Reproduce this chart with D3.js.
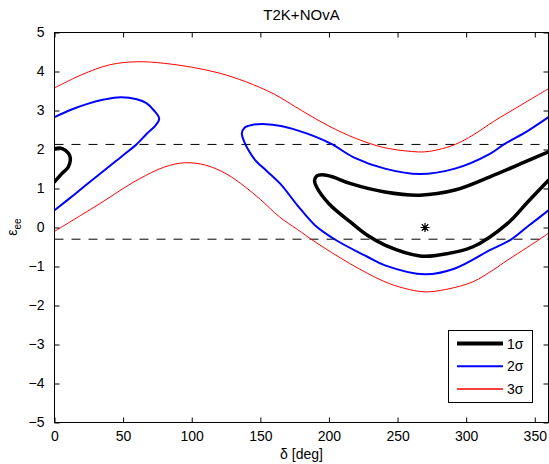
<!DOCTYPE html>
<html>
<head>
<meta charset="utf-8">
<script src="https://cdn.jsdelivr.net/npm/d3@7"></script>
<style>
  html, body { margin: 0; padding: 0; background: #fff; }
  text { font-family: "Liberation Sans", Arial, Helvetica, sans-serif; }
</style>
</head>
<body>
<svg id="chart" width="549" height="464"></svg>
<script>
// ---------- data ----------
const title = "T2K+NOvA";
const xTicks = [0, 50, 100, 150, 200, 250, 300, 350];
const yTicks = [-5, -4, -3, -2, -1, 0, 1, 2, 3, 4, 5];
const dashedLevels = [2.13, -0.3];
const bestFit = [270, 0];

// 3 sigma (red)
const red3UpperDelta = [0, 20, 40, 60, 80, 100, 120, 140, 160, 180, 200, 220, 240, 260, 270, 280, 292, 305, 320, 340, 360];
const red3UpperEps   = [3.58, 3.92, 4.17, 4.25, 4.21, 4.11, 3.96, 3.73, 3.42, 3.0, 2.6, 2.28, 2.05, 1.95, 1.94, 2.0, 2.13, 2.37, 2.72, 3.14, 3.56];
const red3LowerDelta = [0, 20, 37, 50, 62, 80, 95, 110, 125, 139, 150, 164, 177, 190, 215, 240, 255, 270, 285, 305, 320, 330, 345, 360];
const red3LowerEps   = [-0.1, 0.33, 0.70, 1.0, 1.25, 1.55, 1.66, 1.6, 1.38, 1.04, 0.72, 0.27, -0.05, -0.37, -0.92, -1.38, -1.56, -1.65, -1.59, -1.39, -1.08, -0.84, -0.5, -0.15];

// 2 sigma (blue)
const blue2LeftDelta = [0, 12, 24, 36, 48, 60, 67, 72.5, 76.3, 73.7, 67.4, 59.7, 54.6, 45, 30, 15, 0];
const blue2LeftEps   = [2.83, 3.02, 3.17, 3.28, 3.34, 3.29, 3.19, 3.0, 2.79, 2.62, 2.41, 2.13, 1.98, 1.71, 1.29, 0.86, 0.44];
const blue2RightDelta = [360, 345, 332.6, 317.3, 291.8, 270, 240.8, 228, 205, 189.8, 177, 164.3, 151.5, 146.4, 141.4, 138.5, 136.5, 138.5, 144, 154, 165, 177, 190, 202.5, 218, 240.8, 266, 291.8, 317.3, 327.5, 345, 360];
const blue2RightEps   = [0.44, 0.03, -0.31, -0.58, -1.05, -1.20, -0.97, -0.75, -0.32, 0.06, 0.57, 1.13, 1.55, 1.72, 1.98, 2.18, 2.41, 2.56, 2.63, 2.65, 2.6, 2.49, 2.33, 2.13, 1.80, 1.51, 1.37, 1.51, 1.89, 2.13, 2.48, 2.83];

// 1 sigma (black)
const black1LeftDelta = [0, 4, 8, 11, 11.5, 10, 5, 0];
const black1LeftEps   = [2.02, 2.04, 1.98, 1.85, 1.72, 1.55, 1.37, 1.17];
const black1RightDelta = [360, 342.8, 317.3, 291.8, 266.3, 240.8, 215.3, 202.5, 195, 191, 189.5, 191, 200, 215.3, 228, 240.8, 266.3, 279, 304.6, 330, 345, 360];
const black1RightEps   = [1.94, 1.68, 1.30, 0.96, 0.83, 0.91, 1.13, 1.30, 1.35, 1.32, 1.2, 1.04, 0.61, 0.15, -0.20, -0.45, -0.73, -0.71, -0.50, 0.10, 0.66, 1.21];

const legendLabels = ["1\u03c3", "2\u03c3", "3\u03c3"];
const legendColors = ["#000000", "#0000ff", "#ff0000"];
const legendWidths = [4, 2, 1.5];

// ---------- layout ----------
const svg = d3.select("#chart");
const X0 = 54.5, X1 = 548.5, Y0 = 32.5, Y1 = 422.5;
const x = d3.scaleLinear().domain([0, 360]).range([X0, X1]);
const y = d3.scaleLinear().domain([-5, 5]).range([Y1, Y0]);

svg.append("defs").append("clipPath").attr("id", "clip")
  .append("rect").attr("x", X0).attr("y", Y0).attr("width", X1 - X0).attr("height", Y1 - Y0);

svg.append("rect").attr("x", X0).attr("y", Y0).attr("width", X1 - X0).attr("height", Y1 - Y0)
  .attr("fill", "#fff");

const plot = svg.append("g").attr("clip-path", "url(#clip)");

const zip = (a, b) => a.map((d, i) => [d, b[i]]);
const line = d3.line().x(d => x(d[0])).y(d => y(d[1])).curve(d3.curveCatmullRom.alpha(0.5));

// dashed lines
dashedLevels.forEach(v => {
  plot.append("line").attr("x1", X0).attr("x2", X1).attr("y1", y(v)).attr("y2", y(v))
    .attr("stroke", "#000").attr("stroke-width", 1).attr("stroke-dasharray", "9,8");
});

const curves = [
  [red3UpperDelta, red3UpperEps, "#ff0000", 1],
  [red3LowerDelta, red3LowerEps, "#ff0000", 1],
  [blue2LeftDelta, blue2LeftEps, "#0000ff", 2],
  [blue2RightDelta, blue2RightEps, "#0000ff", 2],
  [black1LeftDelta, black1LeftEps, "#000000", 3.5],
  [black1RightDelta, black1RightEps, "#000000", 3.5]
];
curves.forEach(([dx, dy, col, w]) => {
  plot.append("path").attr("d", line(zip(dx, dy)))
    .attr("fill", "none").attr("stroke", col).attr("stroke-width", w)
    .attr("stroke-linejoin", "round").attr("stroke-linecap", "round");
});

// best-fit asterisk
const sx = x(bestFit[0]), sy = y(bestFit[1]), r = 4.5, rd = r * 0.72;
plot.append("path")
  .attr("d", `M${sx - r},${sy}L${sx + r},${sy}M${sx},${sy - r}L${sx},${sy + r}` +
             `M${sx - rd},${sy - rd}L${sx + rd},${sy + rd}M${sx - rd},${sy + rd}L${sx + rd},${sy - rd}`)
  .attr("stroke", "#000").attr("stroke-width", 1.2).attr("fill", "none");

// axes (ticks inside on all sides)
const tl = 5;
const fmt = v => (v < 0 ? "\u2212" + Math.abs(v) : String(v));
const axBottom = d3.axisBottom(x).tickValues(xTicks).tickSize(-tl).tickPadding(9).tickFormat(fmt);
const axTop = d3.axisTop(x).tickValues(xTicks).tickSize(-tl).tickFormat("");
const axLeft = d3.axisLeft(y).tickValues(yTicks).tickSize(-tl).tickPadding(10).tickFormat(fmt);
const axRight = d3.axisRight(y).tickValues(yTicks).tickSize(-tl).tickFormat("");

function style(g) {
  g.selectAll(".domain").remove();
  g.selectAll("line").attr("stroke", "#000").attr("stroke-width", 1);
  g.selectAll("text").attr("fill", "#000").attr("font-size", 14)
    .attr("font-family", "'Liberation Sans', Arial, sans-serif");
}
svg.append("g").attr("transform", `translate(0,${Y1})`).call(axBottom).call(style);
svg.append("g").attr("transform", `translate(0,${Y0})`).call(axTop).call(style);
svg.append("g").attr("transform", `translate(${X0},0)`).call(axLeft).call(style);
svg.append("g").attr("transform", `translate(${X1},0)`).call(axRight).call(style);

svg.append("rect").attr("x", X0).attr("y", Y0).attr("width", X1 - X0).attr("height", Y1 - Y0)
  .attr("fill", "none").attr("stroke", "#000").attr("stroke-width", 1);

// title and labels
svg.append("text").attr("x", (X0 + X1) / 2).attr("y", 20).attr("text-anchor", "middle")
  .attr("font-size", 15).text(title);
svg.append("text").attr("x", (X0 + X1) / 2).attr("y", 459).attr("text-anchor", "middle")
  .attr("font-size", 14).text("\u03b4 [deg]");
const yl = svg.append("text").attr("transform", "translate(17,227) rotate(-90)")
  .attr("text-anchor", "middle").attr("font-size", 14);
yl.append("tspan").text("\u03b5");
yl.append("tspan").attr("font-size", 10).attr("dy", 4).text("ee");

// legend
const lg = svg.append("g");
lg.append("rect").attr("x", 448.5).attr("y", 330.5).attr("width", 84).attr("height", 72)
  .attr("fill", "#fff").attr("stroke", "#000").attr("stroke-width", 1);
legendLabels.forEach((lab, i) => {
  const ly = 343.5 + i * 22.7;
  lg.append("line").attr("x1", 457).attr("x2", 503).attr("y1", ly).attr("y2", ly)
    .attr("stroke", legendColors[i]).attr("stroke-width", legendWidths[i]);
  lg.append("text").attr("x", 507).attr("y", ly + 5).attr("font-size", 14).text(lab);
});
</script>
</body>
</html>
